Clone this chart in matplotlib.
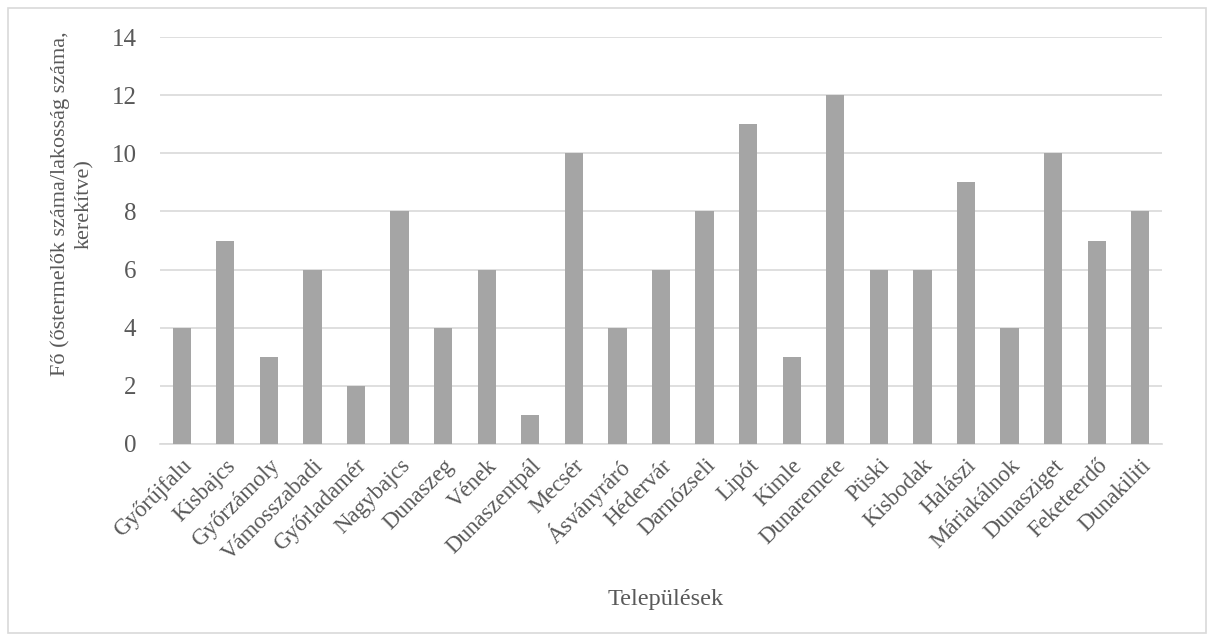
import numpy as np
import matplotlib.pyplot as plt
from matplotlib.patches import Rectangle

plt.rcParams['font.family'] = ['Liberation Serif', 'DejaVu Serif']

telepulesek = ['Győrújfalu', 'Kisbajcs', 'Győrzámoly', 'Vámosszabadi', 'Győrladamér',
               'Nagybajcs', 'Dunaszeg', 'Vének', 'Dunaszentpál', 'Mecsér', 'Ásványráró',
               'Hédervár', 'Darnózseli', 'Lipót', 'Kimle', 'Dunaremete', 'Püski',
               'Kisbodak', 'Halászi', 'Máriakálnok', 'Dunasziget', 'Feketeerdő', 'Dunakiliti']
fo = [4, 7, 3, 6, 2, 8, 4, 6, 1, 10, 4, 6, 8, 11, 3, 12, 6, 6, 9, 4, 10, 7, 8]
yticks = [0, 2, 4, 6, 8, 10, 12, 14]

text_c = '#595959'
fig = plt.figure(figsize=(12.14, 6.41), dpi=100)
ax = fig.add_axes([160 / 1214, 1 - 444 / 641, (1162 - 160) / 1214, (444 - 37) / 641])

x = np.arange(len(telepulesek))
ax.bar(x, fo, width=0.42, color='#A5A5A5', zorder=3)
ax.set_xlim(-0.5, len(telepulesek) - 0.5)
ax.set_ylim(0, 14)
ax.set_yticks(yticks)
ax.yaxis.grid(True, color='#D9D9D9', linewidth=1.2, zorder=0)
for s in ['top', 'right', 'left']:
    ax.spines[s].set_visible(False)
ax.spines['bottom'].set_color('#D9D9D9')
ax.spines['bottom'].set_linewidth(1.2)
ax.tick_params(axis='both', length=0, colors=text_c, labelsize=18)
ax.tick_params(axis='y', pad=17)
ax.set_xticks(x)
ax.set_xticklabels(telepulesek, rotation=45, ha='right', rotation_mode='anchor', fontsize=16.5)
ax.tick_params(axis='x', pad=8)

fig.text(666 / 1214, 1 - 600 / 641, 'Települések', ha='center', va='center', color=text_c, fontsize=17.5)
fig.text(72 / 1214, 1 - 204 / 641, 'Fő (őstermelők száma/lakosság száma,\nkerekítve)', rotation=90,
         ha='center', va='center', multialignment='center', color=text_c, fontsize=16,
         linespacing=1.35)

fig.patches.append(Rectangle((8 / 1214, 8 / 641), 1198 / 1214, 625 / 641, transform=fig.transFigure,
                             fill=False, edgecolor='#D9D9D9', linewidth=1.2))

fig.savefig('out.png', dpi=100)
